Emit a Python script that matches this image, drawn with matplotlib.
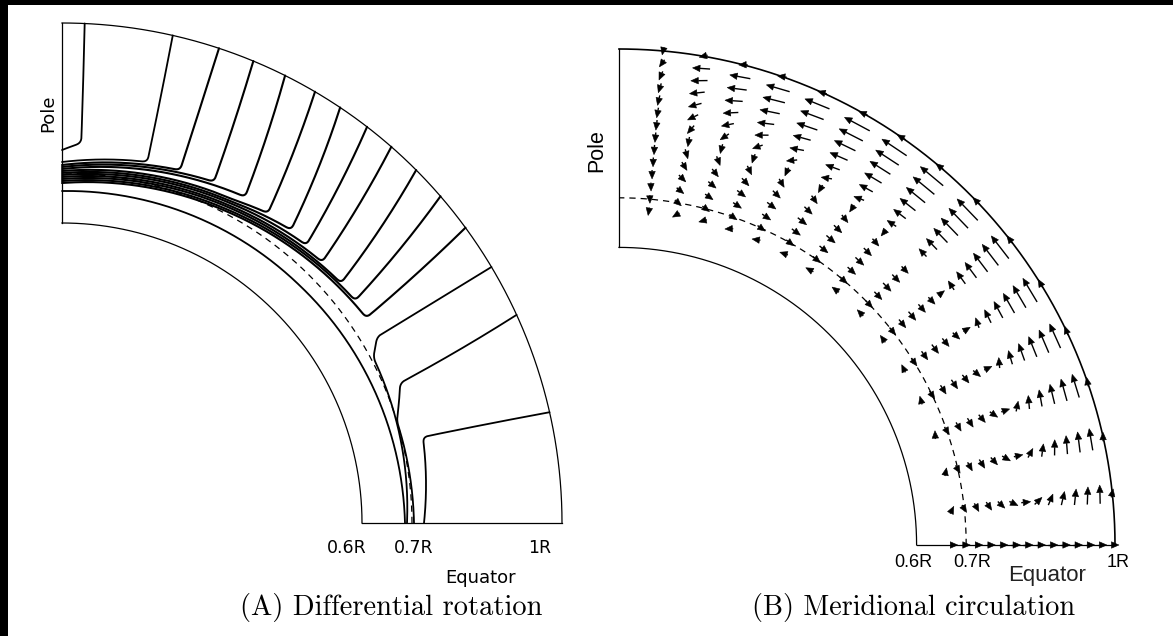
import numpy as np
import matplotlib.pyplot as plt
from matplotlib.patches import Rectangle
from matplotlib.collections import LineCollection, PolyCollection

plt.rcParams['font.family'] = ['DejaVu Sans']

# ---------------- (A) differential rotation -----------------
# each contour is a list of knots (radius in R, latitude in degrees)
rot_contours = [
    [(1.000, 87.4), (0.761, 87.1), (0.746, 90.0)],
    [(1.000, 77.2), (0.742, 76.7), (0.722, 90.0)],
    [(1.000, 71.7), (0.744, 71.5), (0.716, 90.0)],
    [(1.000, 67.5), (0.747, 66.0), (0.712, 90.0)],
    [(1.000, 63.5), (0.748, 60.7), (0.708, 90.0)],
    [(1.000, 59.6), (0.744, 56.4), (0.732, 62.0), (0.704, 90.0)],
    [(1.000, 56.2), (0.744, 52.0), (0.727, 62.0), (0.700, 90.0)],
    [(1.000, 52.4), (0.740, 48.7), (0.723, 62.0), (0.696, 90.0)],
    [(1.000, 48.8), (0.737, 45.1), (0.718, 62.0), (0.692, 90.0)],
    [(1.000, 44.9), (0.736, 40.7), (0.714, 62.0), (0.688, 90.0)],
    [(1.000, 40.8), (0.736, 37.2), (0.709, 62.0), (0.684, 90.0)],
    [(1.000, 36.2), (0.734, 34.0), (0.705, 62.0), (0.680, 90.0)],
    [(1.000, 30.8), (0.732, 30.6), (0.705, 28.0), (0.690, 0.0)],
    [(1.000, 24.6), (0.732, 22.5), (0.700, 17.0), (0.704, 0.0)],
    [(1.000, 12.8), (0.742, 13.4), (0.724, 0.0)],
    [(0.664, 90.0), (0.672, 45.0), (0.686, 0.0)],
]
rot_ticks = [0.57, 0.704, 0.956]
rot_tick_labels = ['0.6R', '0.7R', '1R']

# ---------------- (B) meridional circulation ----------------
arrow_lat = [84.9, 80.2, 75.5, 70.8, 65.8, 60.5, 55.3, 49.7,
             43.9, 38.0, 31.8, 25.6, 19.2, 12.6, 6.0, 0.0]
arrow_r = [1.000, 0.975, 0.950, 0.925, 0.900, 0.875, 0.850,
           0.825, 0.800, 0.775, 0.750, 0.725, 0.700, 0.675]
# poleward flow: depth profile and latitude profile
poleward_depth = [0.10, 1.00, 0.90, 0.75, 0.55, 0.35, 0.15,
                  0.00, -0.10, -0.15, -0.18, -0.15, -0.10, 0.05]
poleward_lat = [0.03, 0.45, 0.60, 0.75, 0.85, 0.95, 1.00, 1.00,
                1.00, 0.95, 0.90, 0.85, 0.75, 0.65, 0.50, 0.00]
# radial (outward) flow: depth profile and latitude profile
radial_depth = [0.02, 0.05, 0.08, 0.10, 0.12, 0.12, 0.12,
                0.11, 0.10, 0.08, 0.06, 0.04, 0.03, 0.02]
radial_lat = [-1.00, -0.95, -0.85, -0.75, -0.60, -0.45, -0.30, -0.15,
              0.00, 0.10, 0.25, 0.40, 0.55, 0.70, 0.80, 0.85]
circ_ticks = [0.593, 0.712, 1.006]
circ_tick_labels = ['0.6R', '0.7R', '1R']

W, H = 1173, 636
fig = plt.figure(figsize=(W / 100, H / 100), dpi=100, facecolor='black')
fig.patches.append(Rectangle((8 / W, 0), 1, (H - 5) / H, transform=fig.transFigure,
                             facecolor='white', edgecolor='none', zorder=-5))


def panel(x0, x1, cx, cy, R):
    # axes in units of R with the centre of the sphere at (cx, cy) pixels
    ax = fig.add_axes([x0 / W, 0, (x1 - x0) / W, 1])
    ax.set_xlim((x0 - cx) / R, (x1 - cx) / R)
    ax.set_ylim((cy - H) / R, cy / R)
    ax.axis('off')
    return ax


def to_xy(r, lat):
    t = np.radians(lat)
    return r * np.cos(t), r * np.sin(t)


def knots_to_path(knots, step=0.002, win=11):
    xs, ys = [], []
    for (r0, l0), (r1, l1) in zip(knots[:-1], knots[1:]):
        f = np.linspace(0, 1, 60)
        x, y = to_xy(r0 + (r1 - r0) * f, l0 + (l1 - l0) * f)
        xs.append(x)
        ys.append(y)
    x = np.concatenate(xs)
    y = np.concatenate(ys)
    s = np.concatenate([[0], np.cumsum(np.hypot(np.diff(x), np.diff(y)))])
    t = np.append(np.arange(0, s[-1], step), s[-1])
    x = np.interp(t, s, x)
    y = np.interp(t, s, y)
    # round off the corners
    k = np.ones(win) / win
    p = win // 2
    x = np.convolve(np.pad(x, p, mode='reflect', reflect_type='odd'), k, 'valid')
    y = np.convolve(np.pad(y, p, mode='reflect', reflect_type='odd'), k, 'valid')
    return x, y


def frame(ax, lw=0.9, outer_lw=0.9):
    lat = np.linspace(0, 90, 300)
    ax.plot(*to_xy(0.6, lat), color='black', lw=lw)
    ax.plot(*to_xy(1.0, lat), color='black', lw=outer_lw)
    ax.plot([0, 0], [0.6, 1.0], color='black', lw=lw)
    ax.plot([0.6, 1.0], [0, 0], color='black', lw=lw)
    ax.plot(*to_xy(0.7, lat), color='black', lw=0.9, ls=(0, (5, 4)))


# left panel
axA = panel(0, 586, 62, 523, 500)
frame(axA)
for i, c in enumerate(rot_contours):
    # the lines bunched along the tachocline are drawn a little heavier
    lw = 1.5 if 2 <= i <= 11 else 1.3
    axA.plot(*knots_to_path(c), color='black', lw=lw, solid_capstyle='round')
for xt, lab in zip(rot_ticks, rot_tick_labels):
    axA.text(xt, -0.05, lab, ha='center', va='center', fontsize=12.5)
axA.text(0.838, -0.11, 'Equator', ha='center', va='center', fontsize=13)
axA.text(-0.028, 0.82, 'Pole', ha='center', va='center', rotation=90, fontsize=13)
axA.text(0.658, -0.17, '(A) Differential rotation', ha='center', va='center',
         fontsize=20.5, family='cmr10')

# right panel
axB = panel(586, W, 619, 545, 496)
frame(axB, outer_lw=1.2)
rr, ll = np.meshgrid(arrow_r, arrow_lat, indexing='ij')
v_pol = np.outer(poleward_depth, poleward_lat)
v_rad = np.outer(radial_depth, radial_lat)
phi = np.radians(ll)
vx = v_rad * np.cos(phi) - v_pol * np.sin(phi)
vy = v_rad * np.sin(phi) + v_pol * np.cos(phi)
speed = np.hypot(vx, vy)
ux, uy = vx / speed, vy / speed
px, py = to_xy(rr, ll)

head_len, head_w, scale = 0.015, 0.013, 0.045
length = head_len + scale * speed
tip_x, tip_y = px + ux * length / 2, py + uy * length / 2
tail_x, tail_y = px - ux * length / 2, py - uy * length / 2
base_x, base_y = tip_x - ux * head_len, tip_y - uy * head_len

shafts = [[(a, b), (c, d)] for a, b, c, d in
          zip(tail_x.ravel(), tail_y.ravel(), base_x.ravel(), base_y.ravel())]
heads = [[(tx, ty), (bx - uyy * head_w / 2, by + uxx * head_w / 2),
          (bx + uyy * head_w / 2, by - uxx * head_w / 2)]
         for tx, ty, bx, by, uxx, uyy in
         zip(tip_x.ravel(), tip_y.ravel(), base_x.ravel(), base_y.ravel(),
             ux.ravel(), uy.ravel())]
axB.add_collection(LineCollection(shafts, colors='black', linewidths=1.0))
axB.add_collection(PolyCollection(heads, facecolors='black', edgecolors='black',
                                  linewidths=0.4))

for xt, lab in zip(circ_ticks, circ_tick_labels):
    axB.text(xt, -0.036, lab, ha='center', va='center', fontsize=13,
             family='Liberation Sans')
axB.text(0.863, -0.0625, 'Equator', ha='center', va='center', fontsize=16,
         family='Liberation Sans', color='#222222')
axB.text(-0.044, 0.796, 'Pole', ha='center', va='center', rotation=90,
         fontsize=15.5, family='Liberation Sans')
axB.text(0.593, -0.125, '(B) Meridional circulation', ha='center', va='center',
         fontsize=20.3, family='cmr10')

fig.savefig('out.png', dpi=100, facecolor='black')
